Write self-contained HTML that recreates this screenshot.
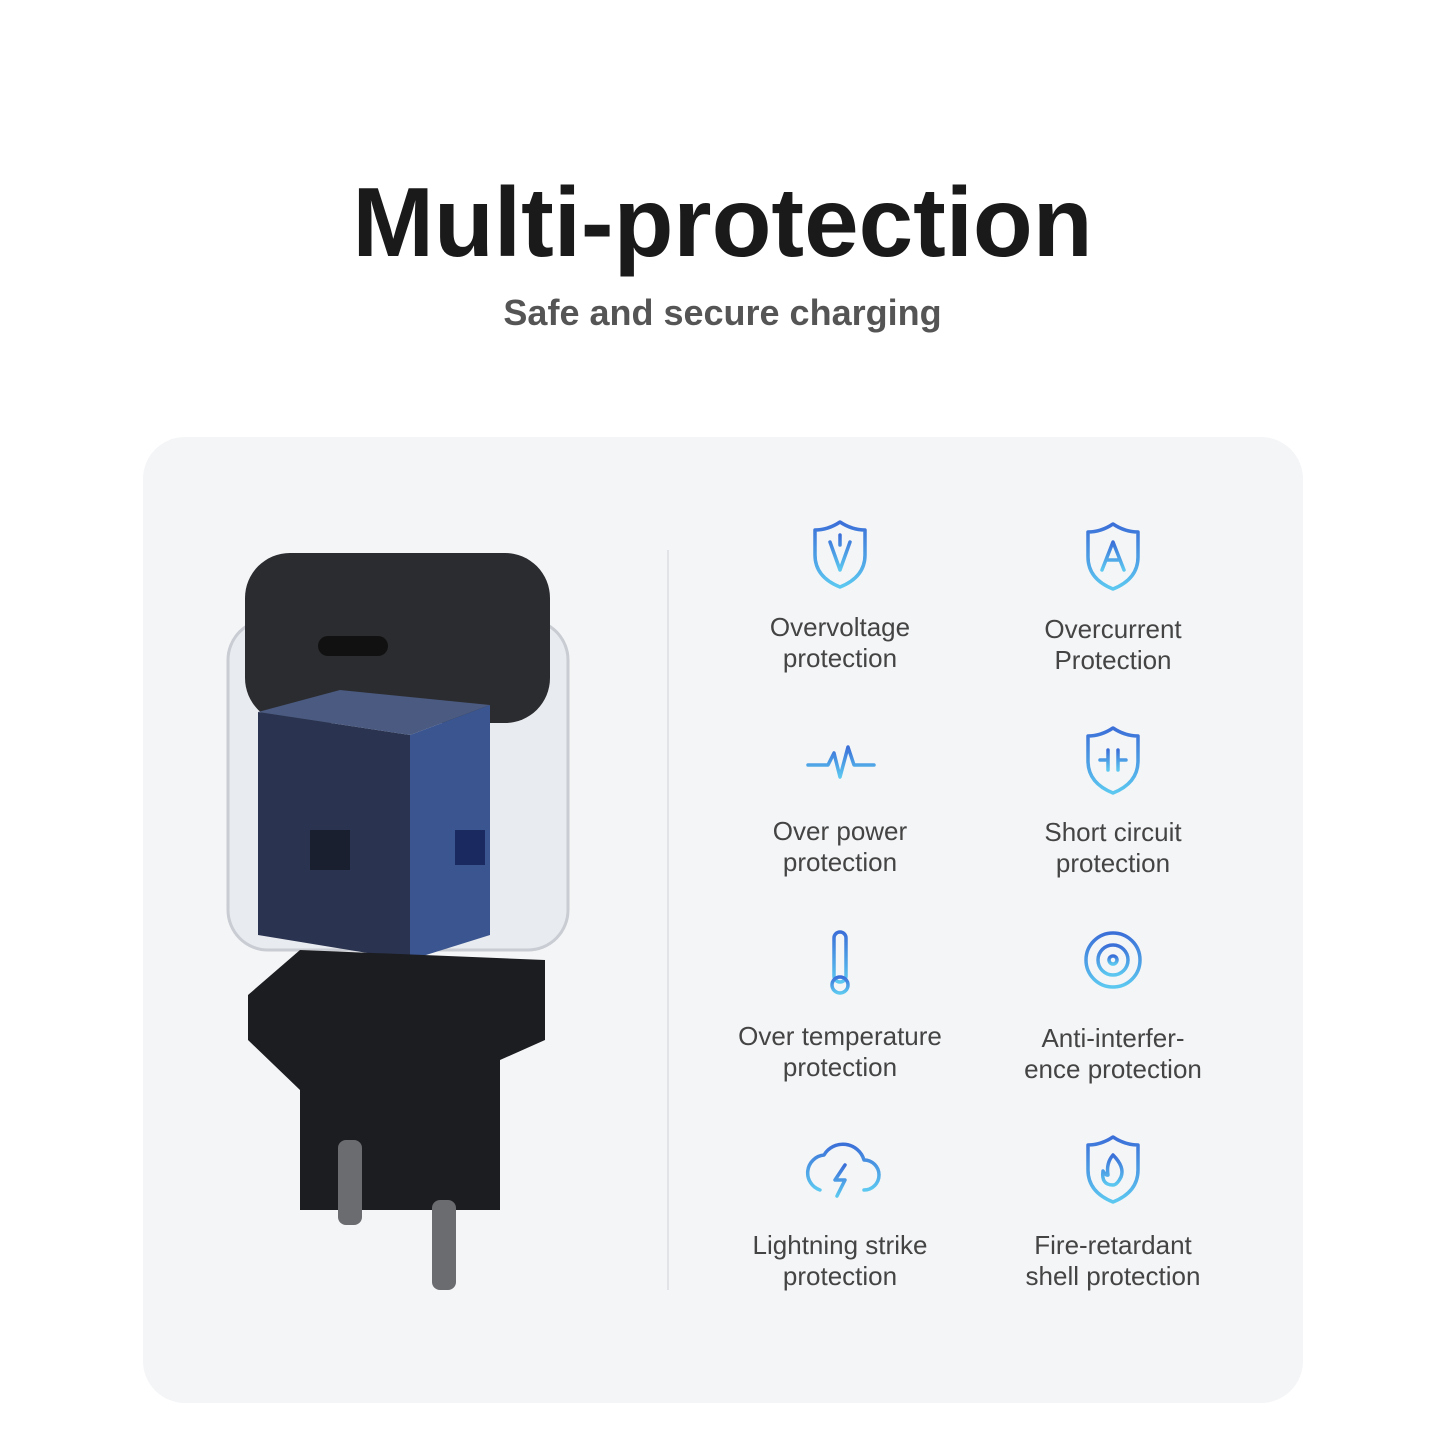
<!DOCTYPE html>
<html><head><meta charset="utf-8"><style>
body{margin:0;width:1445px;height:1445px;background:#fff;position:relative;overflow:hidden;font-family:"Liberation Sans",sans-serif}
.t{position:absolute;left:0;width:1445px;text-align:center}
.card{position:absolute;left:143px;top:437px;width:1160px;height:966px;background:#f4f5f7;border-radius:42px}
.div{position:absolute;left:667px;top:550px;width:2px;height:740px;background:#e2e3e6}
.lab{position:absolute;width:300px;text-align:center;font-size:26px;line-height:31px;color:#444}
</style></head><body>
<div class="t" style="top:166px;font-size:98px;font-weight:bold;color:#1a1a1a;letter-spacing:0px">Multi-protection</div>
<div class="t" style="top:292px;font-size:36px;font-weight:bold;color:#555">Safe and secure charging</div>
<div class="card"></div>
<div class="div"></div>
<svg style="position:absolute;left:0;top:0" width="1445" height="1445">
<defs><linearGradient id="g" x1="0" y1="0" x2="0" y2="1"><stop offset="0" stop-color="#3b6fd8"/><stop offset="1" stop-color="#5cc8f0"/></linearGradient></defs>
<rect x="228" y="620" width="340" height="330" rx="40" fill="#e8ebef" stroke="#c9ccd2" stroke-width="3"/>
<rect x="245" y="553" width="305" height="170" rx="45" fill="#2b2c2f"/>
<rect x="318" y="636" width="70" height="20" rx="10" fill="#111"/>
<polygon points="258,712 410,735 410,960 258,935" fill="#2a3350"/>
<polygon points="410,735 490,705 490,935 410,960" fill="#3b5590"/>
<polygon points="258,712 340,690 490,705 410,735" fill="#4a5a80"/>
<rect x="455" y="830" width="30" height="35" fill="#1a2a60"/>
<rect x="310" y="830" width="40" height="40" fill="#1a1f30"/>
<polygon points="248,995 300,950 545,960 545,1040 500,1060 500,1210 300,1210 300,1090 248,1040" fill="#1c1d20"/>
<rect x="338" y="1140" width="24" height="85" rx="8" fill="#6a6c70"/>
<rect x="432" y="1200" width="24" height="90" rx="8" fill="#6a6c70"/>
<g fill="none" stroke="url(#g)" stroke-width="3.5" stroke-linecap="round" stroke-linejoin="round">
<path d="M840 522 q12 8 25 8 v25 q0 22 -25 32 q-25 -10 -25 -32 v-25 q13 0 25 -8z"/>
<path d="M830 542 l10 28 l10 -28 M840 545 v-10"/>
<path d="M1113 524 q12 8 25 8 v25 q0 22 -25 32 q-25 -10 -25 -32 v-25 q13 0 25 -8z"/>
<path d="M1102 570 l11 -28 l11 28 M1106 560 h14"/>
<path d="M808 765 h20 l6 -12 l6 24 l8 -30 l6 18 h20"/>
<path d="M1113 728 q12 8 25 8 v25 q0 22 -25 32 q-25 -10 -25 -32 v-25 q13 0 25 -8z"/>
<path d="M1100 760 h8 M1108 750 v20 M1118 750 v20 M1118 760 h8"/>
<rect x="834" y="932" width="12" height="50" rx="6"/><circle cx="840" cy="985" r="8"/>
<circle cx="1113" cy="960" r="27"/><circle cx="1113" cy="960" r="15"/><circle cx="1113" cy="960" r="4"/><path d="M1113 970 v18"/>
<path d="M820 1190 a18 18 0 0 1 4 -35 a22 22 0 0 1 40 5 a15 15 0 0 1 0 30"/><path d="M845 1165 l-10 15 h10 l-8 16"/>
<path d="M1113 1137 q12 8 25 8 v25 q0 22 -25 32 q-25 -10 -25 -32 v-25 q13 0 25 -8z"/>
<path d="M1113 1155 q12 12 8 22 q-4 8 -8 8 q-12 0 -10 -14 q3 5 5 4 q-2 -12 5 -20z"/>
</g></svg>
<div class="lab" style="left:690px;top:612px">Overvoltage<br>protection</div>
<div class="lab" style="left:963px;top:614px">Overcurrent<br>Protection</div>
<div class="lab" style="left:690px;top:816px">Over power<br>protection</div>
<div class="lab" style="left:963px;top:817px">Short circuit<br>protection</div>
<div class="lab" style="left:680px;top:1021px;width:320px">Over temperature<br>protection</div>
<div class="lab" style="left:963px;top:1023px">Anti-interfer-<br>ence protection</div>
<div class="lab" style="left:690px;top:1230px">Lightning strike<br>protection</div>
<div class="lab" style="left:963px;top:1230px">Fire-retardant<br>shell protection</div>
</body></html>
